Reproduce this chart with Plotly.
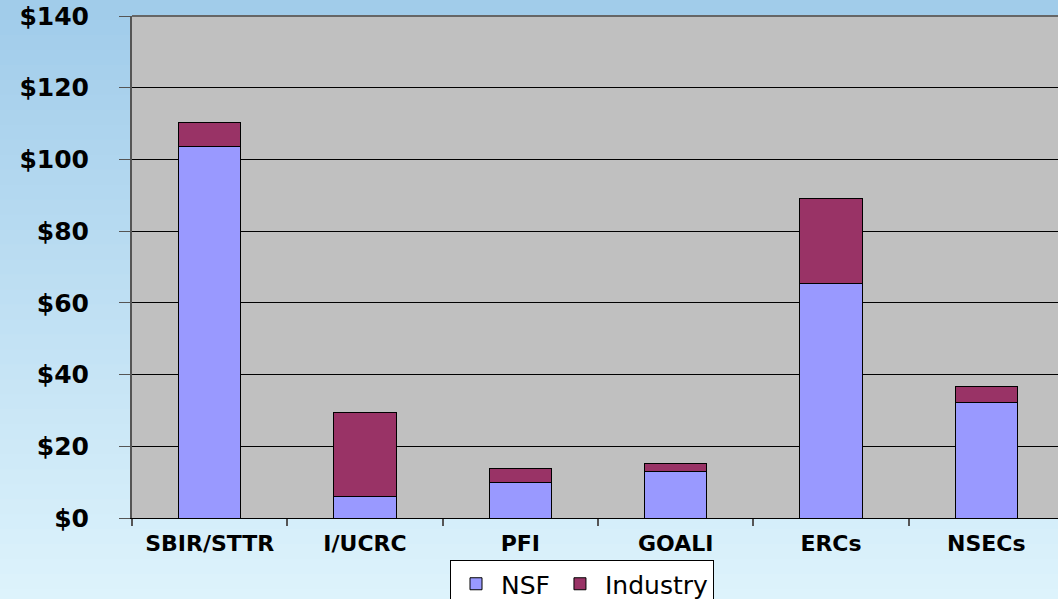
import plotly.graph_objects as go

categories = ["SBIR/STTR", "I/UCRC", "PFI", "GOALI", "ERCs", "NSECs"]
nsf = [103.5, 5.9, 9.8, 13.1, 65.5, 32.1]
industry = [6.9, 23.4, 3.9, 2.2, 23.7, 4.7]

W, H = 1058, 599
ML, MR, MT, MB = 132, 0, 16, 81

fig = go.Figure()
fig.add_trace(go.Bar(x=categories, y=nsf, name="NSF", marker=dict(color="#9999ff", line=dict(color="#000000", width=1)), width=0.4))
fig.add_trace(go.Bar(x=categories, y=industry, name="Industry", marker=dict(color="#993366", line=dict(color="#000000", width=1)), width=0.4))

# background gradient (style only)
shapes = []
n = 40
top = (160, 204, 234)
bot = (222, 243, 252)
pw = W - ML - MR
ph = H - MT - MB
y_lo = -MB / ph
y_hi = 1 + MT / ph
for i in range(n):
    f0 = i / n
    f1 = (i + 1) / n
    t = (i + 0.5) / n
    c = tuple(int(round(bot[k] + (top[k] - bot[k]) * t)) for k in range(3))
    shapes.append(dict(type="rect", xref="paper", yref="paper",
                       x0=-ML / pw - 0.01, x1=1.01,
                       y0=y_lo + (y_hi - y_lo) * f0 - 0.01, y1=y_lo + (y_hi - y_lo) * f1 + 0.01,
                       fillcolor="rgb(%d,%d,%d)" % c, line=dict(width=0), layer="below"))
# plot area fill
shapes.append(dict(type="rect", xref="paper", yref="paper", x0=0, x1=1.01, y0=0, y1=1,
                   fillcolor="#c0c0c0", line=dict(width=0), layer="below"))

fig.update_layout(
    width=W, height=H,
    margin=dict(l=ML, r=MR, t=MT, b=MB, pad=0, autoexpand=False),
    barmode="stack",
    paper_bgcolor="#cce8f6",
    plot_bgcolor="#c0c0c0",
    shapes=shapes,
    showlegend=True,
    legend=dict(orientation="h", xref="container", yref="container",
                x=450 / W, xanchor="left", y=1 - 560 / H, yanchor="top",
                bgcolor="#ffffff", bordercolor="#000000", borderwidth=1,
                font=dict(family="DejaVu Sans", size=25, color="#000000"),
                itemwidth=40, traceorder="normal"),
    xaxis=dict(range=[-0.5, 5.5 - 6 / 155.3], showgrid=False, showline=True, linecolor="#000000", linewidth=1,
               ticks="outside", tickson="boundaries", ticklen=7, tickcolor="#555555", tickwidth=2,
               tickfont=dict(family="DejaVu Sans", size=22, color="#000000", weight="bold"),
               ticklabelstandoff=6, zeroline=False, mirror=False),
    yaxis=dict(range=[0, 140], dtick=20, tick0=0, tickprefix="$", showgrid=True, gridcolor="#000000", gridwidth=1,
               showline=True, linecolor="#555555", linewidth=2, ticks="outside", ticklen=11, tickcolor="#555555",
               tickwidth=1, tickfont=dict(family="DejaVu Sans", size=25, color="#000000", weight="bold"),
               ticklabelstandoff=25, zeroline=False),
)
fig.add_shape(type="line", xref="paper", yref="paper", x0=0, x1=1, y0=1, y1=1, line=dict(color="#666666", width=2))

fig.write_html("out.html", config={"displayModeBar": False},
               post_script="document.body.style.margin='0';document.body.style.overflow='hidden';")
